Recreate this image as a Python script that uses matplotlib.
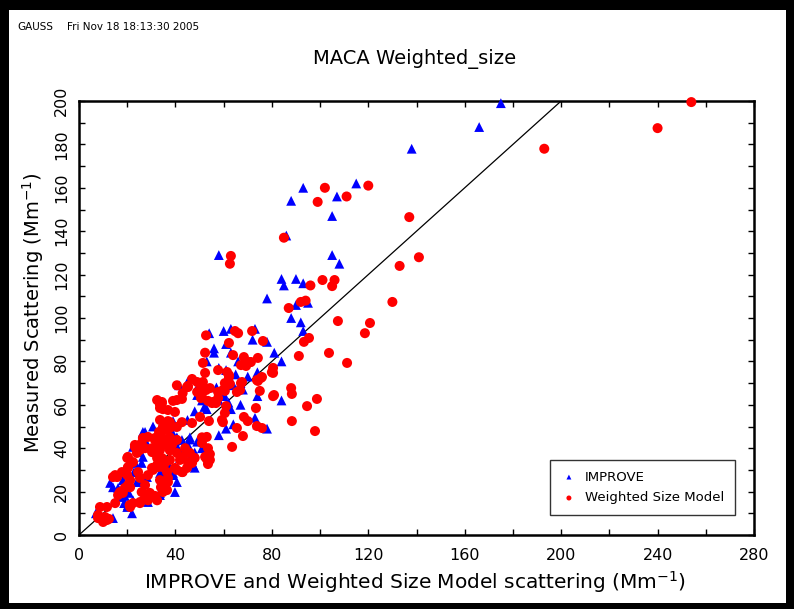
import matplotlib
matplotlib.use("Agg")
import matplotlib.pyplot as plt
from matplotlib.patches import Rectangle
import numpy as np

# ---------------- data ----------------
improve_pts = [
    (175, 199), (166, 188), (138, 178), (115, 162), (93, 160), (88, 154), (107, 156), (105, 147),
    (86, 138), (105, 129), (108, 125), (84, 118), (85, 115), (90, 118), (93, 116), (78, 109),
    (90, 106), (95, 107), (58, 129), (88, 100), (92, 98), (93, 94), (54, 93), (60, 94), (63, 95),
    (73, 95), (72, 90), (78, 89), (61, 88), (56, 86), (56, 84), (53, 80), (63, 84), (66, 80),
    (81, 84), (84, 80),
    (58, 77), (61, 76), (65, 74), (67, 70), (68, 67), (47, 72), (50, 70), (41.5, 69), (45, 70.5),
    (49, 64.5), (51, 62), (52, 59), (53, 58), (58, 62), (60, 64), (62, 61), (63, 58), (67, 60),
    (73, 54), (74, 51), (84, 62), (78, 49), (58, 46), (74, 75), (70, 73), (57, 68), (64, 69),
    (60, 65), (74, 64), (64, 51), (61, 49), (51, 40), (48, 38), (49, 43), (46, 44), (45, 53),
    (48, 57), (39, 52.5),
    (47, 33), (48, 31), (39, 28.6), (35, 28.6), (41, 40), (44, 38), (45, 42), (40.6, 45), (41, 44),
    (33.6, 47), (39, 50), (30.7, 50), (27.4, 47.5), (22.4, 40.6), (25.3, 38.2), (26.5, 36),
    (21.2, 34.6), (23.2, 33.2), (26, 33.2), (17, 28.6), (18.2, 25.3), (24, 24.4), (26, 25.3),
    (28.2, 26.7), (33.6, 28.6), (36.5, 30), (37.7, 31.3), (40.6, 24.4), (39.8, 19.8), (32.4, 17.5),
    (33.6, 19.4), (34.4, 21.7), (26.5, 17.5), (28.6, 19.4), (22.4, 16), (20.3, 13.8), (16.2, 21.7),
    (17.8, 17.5), (12.9, 24), (14.1, 22), (20, 12.9), (22, 10), (14.1, 7.8), (10, 8.3), (7, 10),
    (18.7, 14.7), (28.6, 15.2), (33.6, 18.4), (20.7, 19.4), (19, 18), (22.8, 29), (26.5, 47.5),
    (27.4, 43.8), (33.6, 48.8), (38.6, 47.5), (42.7, 43.8), (46, 45), (34.8, 26.3), (39, 27.6),
    (41, 30.9), (47.3, 32.3), (46.9, 36.9), (44, 38.2), (41.9, 35.5),
]

weighted_pts = [
    (254, 199.5), (240, 187.5), (193, 178), (137, 146.5), (141, 128), (133, 124), (130, 107.4),
    (102, 160), (99, 153.5), (111, 156), (120, 161), (85, 137), (101, 117.5), (106, 117.5),
    (105, 114.7), (96, 115), (92, 107.4), (94, 108), (87, 104.6), (63, 128.6), (62.6, 125),
    (107.4, 98.6), (120.7, 97.7), (118.6, 93), (52.7, 92), (64.7, 94), (66, 93), (71.8, 94),
    (76.3, 89.4), (62.2, 88.5), (93.3, 89), (95.4, 90.8), (91.2, 82.5), (103.7, 83.9),
    (111.2, 79.3), (88, 67.7), (88.3, 65), (98.7, 62.7), (94.6, 59.4), (88.3, 52.5), (97.9, 47.9),
    (52.3, 84), (51.4, 79.3), (63.9, 82.9), (68.4, 82), (71.3, 79.7), (74.2, 81.6), (69.3, 77.9),
    (52.3, 74.7), (57.7, 76), (61.4, 75.1), (62.2, 73.7), (61.8, 70.5), (67.6, 70.5), (75.9, 72.8),
    (74.2, 71), (80.5, 77), (80.5, 74.7), (46.9, 71.9), (45.2, 68.7), (51, 68.2), (52.7, 66.8),
    (54.3, 67.7), (57.7, 65.9), (60.5, 66.4), (65.5, 65.9), (75, 66.4), (80.5, 64), (50.6, 63.1),
    (53.5, 61.8), (55.6, 61.3), (57.7, 63.1), (73.4, 58.5),
    (62.2, 72.8), (67.2, 78.3), (69.7, 79.3), (70.9, 79.7), (73.8, 71.4), (75.5, 72.4), (80, 75),
    (80.9, 64.5), (51.4, 70.5), (60.5, 70), (62.6, 69.6), (67.2, 70), (66.8, 66.8), (59.7, 66.8),
    (51.4, 67.3), (49, 65.9), (40.6, 69), (45.2, 68.2), (43, 65.4), (42.7, 62.7), (39, 61.8),
    (34.4, 61.3), (34.8, 58), (33.6, 60), (51, 63.6), (55.2, 60.8), (56.8, 60.8), (61, 59.4),
    (60.5, 56.2), (68.4, 54.4), (70, 52.5), (73.8, 50.2), (75.9, 49.3), (65.5, 49.3), (59.3, 53),
    (59.7, 52), (68, 45.6), (63.5, 40.6), (51, 45), (51, 42.4), (54.3, 37.3), (53, 35), (53.5, 32.7),
    (53.9, 52.5), (50.2, 54.4), (46.9, 51.6), (42.7, 52), (37.7, 52), (33.6, 53), (36.9, 52.5),
    (35.7, 48.4), (33.2, 47.5), (37.7, 45), (37.7, 39), (40.6, 37.8), (41.9, 34.6), (43, 36),
    (40.6, 30), (43, 29), (46.9, 33.2), (37.7, 34.6), (35.7, 33.2), (33.6, 34.6), (32.4, 35.5),
    (30.7, 30), (32.8, 31.3), (31.5, 43.8), (34.8, 41.5), (30.3, 40), (33.6, 39.2),
    (7.9, 9.2), (11.6, 6.9), (10, 6), (12.4, 7.4), (11.6, 12.9), (15, 14.7), (16.2, 18.4),
    (21, 13.8), (22.4, 14.7), (25.3, 15.2), (27.4, 17), (29.4, 17.5), (31.5, 18), (34.8, 21.7),
    (34, 22), (17, 19.8), (19, 21.7), (20.3, 23), (21.2, 25.3), (20, 27.6), (15, 27.6), (17.8, 29),
    (20.3, 31.3), (22.4, 33.6), (20.3, 36), (24, 37.8), (24.5, 29), (25.3, 26.3), (27.4, 23),
    (26, 19.8), (23.2, 41.5), (26, 42.4), (26.5, 44.7), (28.6, 45.2), (31.5, 44.7), (25.3, 39.2),
    (27.4, 40), (30.3, 38.2), (32.4, 41.5), (32.8, 38.2), (34.4, 35.5), (32.4, 32.3), (30.3, 30.9),
    (28.6, 27.6), (34.8, 31.3), (36.5, 29), (36.9, 26.3),
    (34.8, 49.8), (37.7, 49.3), (40.6, 49.8), (34.4, 44.7), (35.7, 42.4), (38.6, 41.5),
    (40.6, 43.8), (39.8, 30.9), (42.7, 29), (44.8, 30.9), (45.2, 33.6), (48, 35.5), (46, 37.8),
    (44, 40),
    (32.4, 62.2), (34.4, 60.8), (33.6, 58.5), (36.9, 57.6), (39.8, 56.7), (40.6, 62.2),
    (44.8, 68.2), (49, 70.5), (53, 45.2), (53.5, 40), (52.3, 36), (54.3, 34.6), (23.2, 40.6),
    (20, 35.5), (14.1, 26.7), (15.8, 26.7), (20.3, 30.9), (21.2, 22), (18.2, 19.4), (21.2, 12.9),
    (25.3, 14.7), (28.6, 16), (32.4, 16), (29.4, 19.4), (34.8, 19.8), (36.5, 20.7), (33.6, 25.3),
    (36.9, 24.4), (8.7, 12.9), (10.8, 8.3), (7.9, 7.8),
]

one_to_one = [0, 200]
x_ticks = [0, 40, 80, 120, 160, 200, 240, 280]
y_ticks = [0, 20, 40, 60, 80, 100, 120, 140, 160, 180, 200]

improve = np.array(improve_pts)
weighted = np.array(weighted_pts)

# ---------------- figure ----------------
plt.rcParams['font.family'] = ['DejaVu Sans']
fig = plt.figure(figsize=(7.94, 6.09), dpi=100)

ax = fig.add_axes([79/794, 1-535/609, (754-79)/794, (535-101)/609])

ax.plot(one_to_one, one_to_one, color='black', lw=0.9, zorder=2)
ax.scatter(improve[:, 0], improve[:, 1], marker='^', s=50, color='#0000ff',
           edgecolors='none', zorder=3, label='IMPROVE', clip_on=False)
ax.scatter(weighted[:, 0], weighted[:, 1], marker='o', s=52, color='#ff0000',
           edgecolors='none', zorder=4, label='Weighted Size Model', clip_on=False)

ax.set_xlim(0, 280)
ax.set_ylim(0, 200)
ax.set_xticks(x_ticks)
ax.set_yticks(y_ticks)
ax.set_xticks(np.arange(0, 281, 20), minor=True)
ax.set_yticks(np.arange(0, 201, 10), minor=True)
ax.tick_params(which='both', direction='in', top=True, right=True, length=4, width=1)
ax.tick_params(axis='x', labelsize=11.5, pad=9)
ax.tick_params(axis='y', labelsize=11.5, pad=7, labelrotation=90)
for lab in ax.get_yticklabels():
    lab.set_verticalalignment('center')
for s in ax.spines.values():
    s.set_linewidth(1.8)

# legend
leg = ax.legend(loc='center', bbox_to_anchor=(552/794, 1-515/609, (733-552)/794, 55/609),
                bbox_transform=fig.transFigure, fontsize=9.5, frameon=True, fancybox=False,
                edgecolor='black', handletextpad=0.6, borderpad=0.8, labelspacing=0.6,
                markerscale=0.5, handlelength=1.2)
leg.get_frame().set_linewidth(1.0)

# texts
fig.text(17/794, 1-27/609, 'GAUSS', fontsize=7.5, va='center', ha='left')
fig.text(67/794, 1-27/609, 'Fri Nov 18 18:13:30 2005', fontsize=7.5, va='center', ha='left')
fig.text(415/794, 1-59/609, 'MACA Weighted_size', fontsize=14, ha='center', va='center')
fig.text(415/794, 1-582/609, r'IMPROVE and Weighted Size Model scattering (Mm$^{-1}$)',
         fontsize=14.5, ha='center', va='center')
fig.text(33/794, 1-313/609, r'Measured Scattering (Mm$^{-1}$)', fontsize=14,
         ha='center', va='center', rotation=90)

# black outer frame
for (x0, y0, w, h) in [(0, 0, 9/794, 1), (0, 1-10/609, 1, 10/609),
                       (1-8/794, 0, 8/794, 1), (0, 0, 1, 6/609)]:
    fig.patches.append(Rectangle((x0, y0), w, h, transform=fig.transFigure,
                                 facecolor='black', edgecolor='none', zorder=10))

fig.savefig('out.png', dpi=100)
